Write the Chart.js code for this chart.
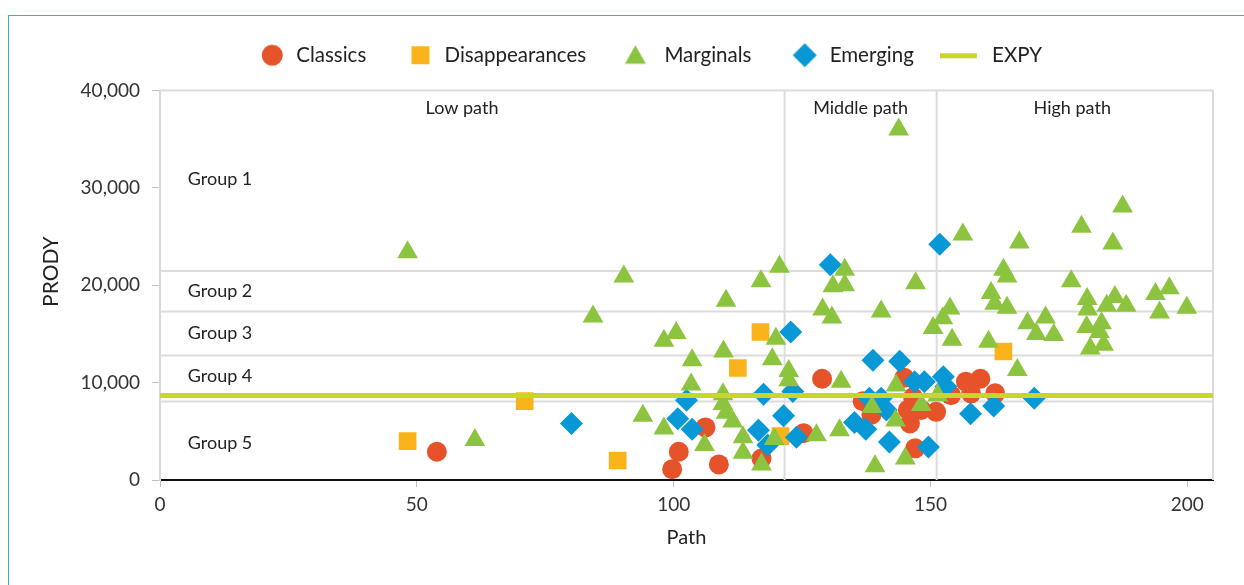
<!DOCTYPE html>
<html>
<head>
<meta charset="utf-8">
<script src="https://cdn.jsdelivr.net/npm/chart.js@4.4.1/dist/chart.umd.min.js"></script>
<style>
html, body { margin: 0; padding: 0; background: #fff; }
#wrap { position: relative; width: 1244px; height: 585px; overflow: hidden; }
#frame { position: absolute; left: 8px; top: 15px; width: 1300px; height: 700px; border: 1px solid #3aa8db; }
canvas { position: absolute; left: 0; top: 0; }
</style>
</head>
<body>
<div id="wrap"><div id="frame"></div><canvas id="scatterChart" width="1244" height="585"></canvas></div>
<script>
// data ----------------------------------------------------------
const xTicks = [0, 50, 100, 150, 200];
const yTicks = [0, 10000, 20000, 30000, 40000];

const classicsX = [53.9, 99.7, 101.0, 106.2, 108.8, 117.1, 125.3, 128.9, 136.8, 138.5,
    144.9, 145.6, 146.0, 146.6, 147.0, 148.2, 151.1, 154.0, 156.9, 157.9, 159.7, 162.6];
const classicsY = [2900, 1100, 2900, 5400, 1600, 2200, 4800, 10400, 8100, 6700,
    10500, 7200, 5800, 8500, 3250, 7200, 7000, 8700, 10100, 8900, 10400, 8900];

const disappX = [48.2, 71.0, 89.1, 112.5, 116.9, 120.8, 164.2];
const disappY = [4000, 8100, 2000, 11500, 15200, 4500, 13200];

const marginalsX = [48.2, 61.3, 84.3, 90.3, 94.0, 98.1, 98.1, 100.5, 103.6, 103.4,
    106.0, 109.7, 110.2, 109.6, 109.6, 110.2, 111.5, 113.5, 113.5, 117.0,
    117.1, 119.2, 119.6, 119.9, 120.6, 122.4, 122.4, 127.8, 129.0, 130.8,
    131.0, 132.3, 132.6, 133.3, 133.3, 138.6, 139.2, 140.4, 143.2, 143.3,
    143.8, 145.1, 147.1, 148.2, 150.5, 151.4, 152.4, 153.8, 154.2, 156.3,
    161.3, 161.8, 162.5, 164.2, 164.9, 164.9, 166.9, 167.3, 168.9, 170.6,
    172.4, 174.0, 177.4, 179.4, 180.5, 180.6, 180.4, 181.1, 183.3, 182.9,
    183.7, 184.3, 185.5, 185.9, 187.4, 188.1, 193.8, 194.6, 196.5, 199.9];
const marginalsY = [23400, 4100, 16800, 20900, 6600, 5300, 14300, 15100, 12300, 9800,
    3600, 13200, 18400, 8800, 7800, 6900, 6000, 4400, 2800, 20400,
    1600, 12400, 4200, 14500, 21900, 11200, 10250, 4600, 17500, 16700,
    19900, 5100, 10100, 21600, 20000, 7500, 1400, 17300, 6100, 9700,
    36000, 2200, 20200, 7700, 15600, 8700, 16600, 17600, 14400, 25200,
    14200, 19200, 18100, 21600, 20900, 17700, 11300, 24400, 16100, 15000,
    16700, 14900, 20400, 26000, 18600, 17500, 15700, 13500, 16100, 15200,
    13900, 17900, 24300, 18800, 28100, 17900, 19100, 17200, 19700, 17700];

const emergingX = [80.1, 100.8, 102.5, 103.6, 116.5, 117.5, 118.3, 121.4, 122.8, 123.2,
    123.9, 130.5, 135.2, 137.4, 138.1, 138.8, 140.4, 141.4, 142.0, 144.0,
    146.9, 148.8, 149.6, 151.8, 152.5, 153.0, 157.8, 162.3, 170.2];
const emergingY = [5800, 6300, 8200, 5200, 5100, 8800, 3600, 6600, 15200, 9100,
    4400, 22100, 5900, 5200, 8400, 12300, 8400, 7200, 3900, 12200,
    10100, 10100, 3400, 24200, 10600, 9600, 6800, 7600, 8400];

const expy = 8690;
const groupBounds = [21470, 17300, 12790, 8070];
const groupLabels = ['Group 1', 'Group 2', 'Group 3', 'Group 4', 'Group 5'];
const pathBounds = [121.6, 151.2];
const pathLabels = ['Low path', 'Middle path', 'High path'];
const yTitle = 'PRODY';

// colours
const red = '#e6532a', orange = '#fab31b', green = '#8cc43f', blue = '#0898d5', lime = '#c8d62b';
const font = 'Lato';

const pts = (xs, ys) => xs.map((v, i) => ({ x: v, y: ys[i] }));

// legend icons (small canvases, shape nudged inside to match the spacing)
function icon(w, draw) {
    const c = document.createElement('canvas');
    c.width = w; c.height = 26;
    const g = c.getContext('2d');
    g.beginPath();
    draw(g);
    g.fill();
    return c;
}
const legendIcons = [
    icon(30, g => { g.fillStyle = red; g.arc(16.25, 13, 10.5, 0, Math.PI * 2); }),
    icon(30, g => { g.fillStyle = orange; g.rect(7.25, 4, 18, 18); }),
    icon(30, g => { g.fillStyle = green; g.moveTo(11.25, 3); g.lineTo(21.75, 21.5); g.lineTo(0.75, 21.5); g.closePath(); }),
    icon(30, g => { g.fillStyle = blue; g.moveTo(15.25, 1); g.lineTo(27.25, 13); g.lineTo(15.25, 25); g.lineTo(3.25, 13); g.closePath(); }),
    icon(54, g => { g.fillStyle = lime; g.rect(0, 11, 37, 5); })
];

// group / path bands drawn behind the marks
const overlay = {
    id: 'overlay',
    beforeInit(chart) {
        // a bit more room under the legend
        const fit = chart.legend.fit;
        chart.legend.fit = function () { fit.call(this); this.height += 15; };
    },
    afterLayout(chart) {
        chart.legend.left += 24;
        chart.legend.right += 24;
    },
    beforeDatasetsDraw(chart) {
        const { ctx, chartArea: a, scales: { x, y } } = chart;
        ctx.save();
        ctx.strokeStyle = '#dcdcdc';
        ctx.lineWidth = 2;
        ctx.beginPath();
        ctx.moveTo(a.left, a.top); ctx.lineTo(a.right, a.top); ctx.lineTo(a.right, a.bottom);
        groupBounds.forEach(v => { const py = y.getPixelForValue(v); ctx.moveTo(a.left, py); ctx.lineTo(a.right, py); });
        pathBounds.forEach(v => { const px = x.getPixelForValue(v); ctx.moveTo(px, a.top); ctx.lineTo(px, a.bottom); });
        ctx.stroke();

        ctx.fillStyle = '#222';
        ctx.font = '18px ' + font;
        ctx.textBaseline = 'middle';
        ctx.textAlign = 'left';
        const gy = [30900, 19400, 15100, 10700, 3800];
        groupLabels.forEach((t, i) => ctx.fillText(t, x.getPixelForValue(5.4), y.getPixelForValue(gy[i])));
        ctx.textAlign = 'center';
        const px = [58.8, 136.4, 177.6];
        pathLabels.forEach((t, i) => ctx.fillText(t, x.getPixelForValue(px[i]), y.getPixelForValue(38200)));

        // y axis title, sits a little above the middle of the axis
        ctx.font = '21px ' + font;
        ctx.translate(51, y.getPixelForValue(21400));
        ctx.rotate(-Math.PI / 2);
        ctx.fillText(yTitle, 0, 0);
        ctx.restore();
    }
};

const ctx = document.getElementById('scatterChart').getContext('2d');
new Chart(ctx, {
    type: 'scatter',
    data: {
        datasets: [
            { label: 'Classics', data: pts(classicsX, classicsY), backgroundColor: red, borderWidth: 0,
              pointStyle: 'circle', pointRadius: 10, pointHoverRadius: 10, order: 4 },
            { label: 'Disappearances', data: pts(disappX, disappY), backgroundColor: orange, borderWidth: 0,
              pointStyle: 'rect', pointRadius: 12.5, pointHoverRadius: 12.5, order: 3 },
            { label: 'Marginals', data: pts(marginalsX, marginalsY), backgroundColor: green, borderWidth: 0,
              pointStyle: 'triangle', pointRadius: 12, pointHoverRadius: 12, order: 1 },
            { label: 'Emerging', data: pts(emergingX, emergingY), backgroundColor: blue, borderWidth: 0,
              pointStyle: 'rectRot', pointRadius: 11.5, pointHoverRadius: 11.5, order: 2 },
            { type: 'line', label: 'EXPY', data: [{ x: 0, y: expy }, { x: 205, y: expy }],
              borderColor: lime, backgroundColor: lime, borderWidth: 5, pointRadius: 0, order: 0 }
        ]
    },
    options: {
        responsive: false,
        animation: false,
        devicePixelRatio: 1,
        layout: { padding: { left: 37, right: 31, top: 7, bottom: 25 } },
        plugins: {
            tooltip: { enabled: false },
            legend: {
                position: 'top',
                labels: {
                    usePointStyle: true,
                    pointStyleWidth: 30,
                    boxHeight: 16,
                    padding: 38,
                    color: '#222',
                    font: { family: font, size: 20.5 },
                    sort: (a, b) => a.datasetIndex - b.datasetIndex,
                    generateLabels(chart) {
                        const items = Chart.defaults.plugins.legend.labels.generateLabels(chart);
                        items.forEach(it => { it.pointStyle = legendIcons[it.datasetIndex]; });
                        return items;
                    }
                }
            }
        },
        scales: {
            x: {
                type: 'linear', min: 0, max: 205,
                afterBuildTicks: s => { s.ticks = xTicks.map(v => ({ value: v })); },
                afterFit: s => { s.height = 80; },
                ticks: { color: '#333', font: { family: font, size: 19 }, padding: 6 },
                grid: { drawOnChartArea: false, tickLength: 7, color: '#bfbfbf' },
                border: { color: '#111', width: 2 },
                title: { display: true, text: 'Path', color: '#222', font: { family: font, size: 20 }, padding: { top: 4, bottom: 10 } }
            },
            y: {
                type: 'linear', min: 0, max: 40000,
                afterBuildTicks: s => { s.ticks = yTicks.map(v => ({ value: v })); },
                afterFit: s => { s.width = 123; },
                ticks: { color: '#333', font: { family: font, size: 19 }, padding: 12,
                         callback: v => v.toLocaleString('en-US') },
                grid: { drawOnChartArea: false, tickLength: 8, color: '#bfbfbf' },
                border: { color: '#d9d9d9', width: 2 }
            }
        }
    },
    plugins: [overlay]
});
</script>
</body>
</html>
